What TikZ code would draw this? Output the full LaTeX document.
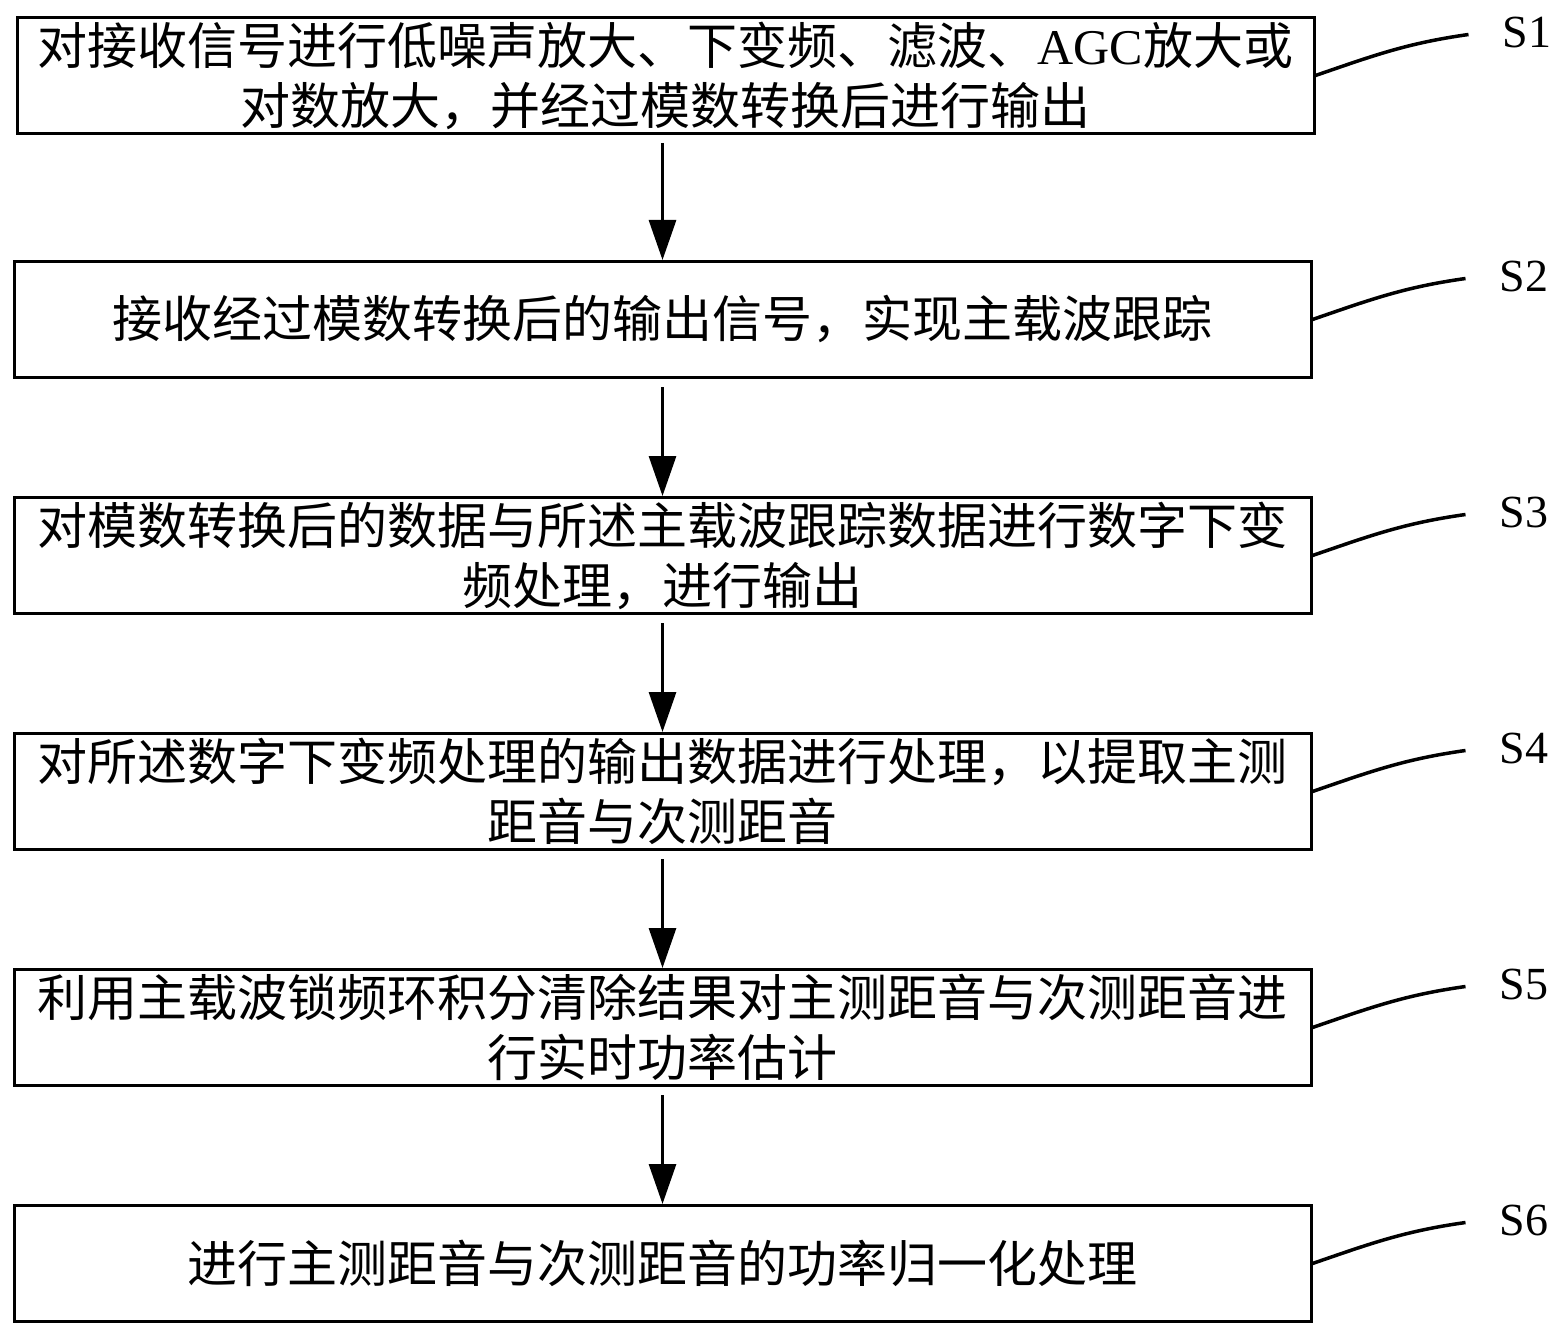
\documentclass[tikz,border=0pt]{standalone}
\usepackage{fontspec}
\setmainfont{Liberation Serif}
\newfontfamily\cjk{Noto Sans CJK SC}
\usepackage{tikz}
\usetikzlibrary{positioning, arrows.meta}
\tikzstyle{stepbox} = [rectangle, draw=black, line width=3pt, minimum width=1297pt, minimum height=116pt, text width=1270pt, inner xsep=13pt, align=center, font=\cjk\fontsize{50pt}{60pt}\selectfont]
\tikzstyle{flow} = [line width=3pt, -{Triangle[length=40pt,width=27pt]}, shorten <=8pt]
\tikzstyle{lead} = [line width=3.5pt]
\tikzstyle{tag} = [inner sep=0pt, font=\fontsize{46pt}{50pt}\selectfont]

\begin{document}
\begin{tikzpicture}[node distance=117pt]
    \useasboundingbox (0,0) rectangle (1563pt,-1337pt);
    \node[stepbox] (s1) at (665.5pt,-75.5pt) {对接收信号进行低噪声放大、下变频、滤波、{\rmfamily AGC}放大或\\对数放大，并经过模数转换后进行输出};
    \node[stepbox, below=125pt of s1, xshift=-3pt] (s2) {接收经过模数转换后的输出信号，实现主载波跟踪};
    \node[stepbox, below=of s2] (s3) {对模数转换后的数据与所述主载波跟踪数据进行数字下变\\频处理，进行输出};
    \node[stepbox, below=of s3] (s4) {对所述数字下变频处理的输出数据进行处理，以提取主测\\距音与次测距音};
    \node[stepbox, below=of s4] (s5) {利用主载波锁频环积分清除结果对主测距音与次测距音进\\行实时功率估计};
    \node[stepbox, below=of s5] (s6) {进行主测距音与次测距音的功率归一化处理};

    \foreach \a/\b in {1/2,2/3,3/4,4/5,5/6}
        \draw[flow] (s\b.north |- s\a.south) -- (s\b.north);

    \foreach \i in {1,...,6} {
        \coordinate (e\i) at ([shift={(153pt,41pt)}]s\i.east);
        \draw[lead] (s\i.east) to[out=19,in=188] (e\i);
        \node[tag, right=34pt of e\i, yshift=2pt] (t\i) {S\i};
    }
\end{tikzpicture}
\end{document}
